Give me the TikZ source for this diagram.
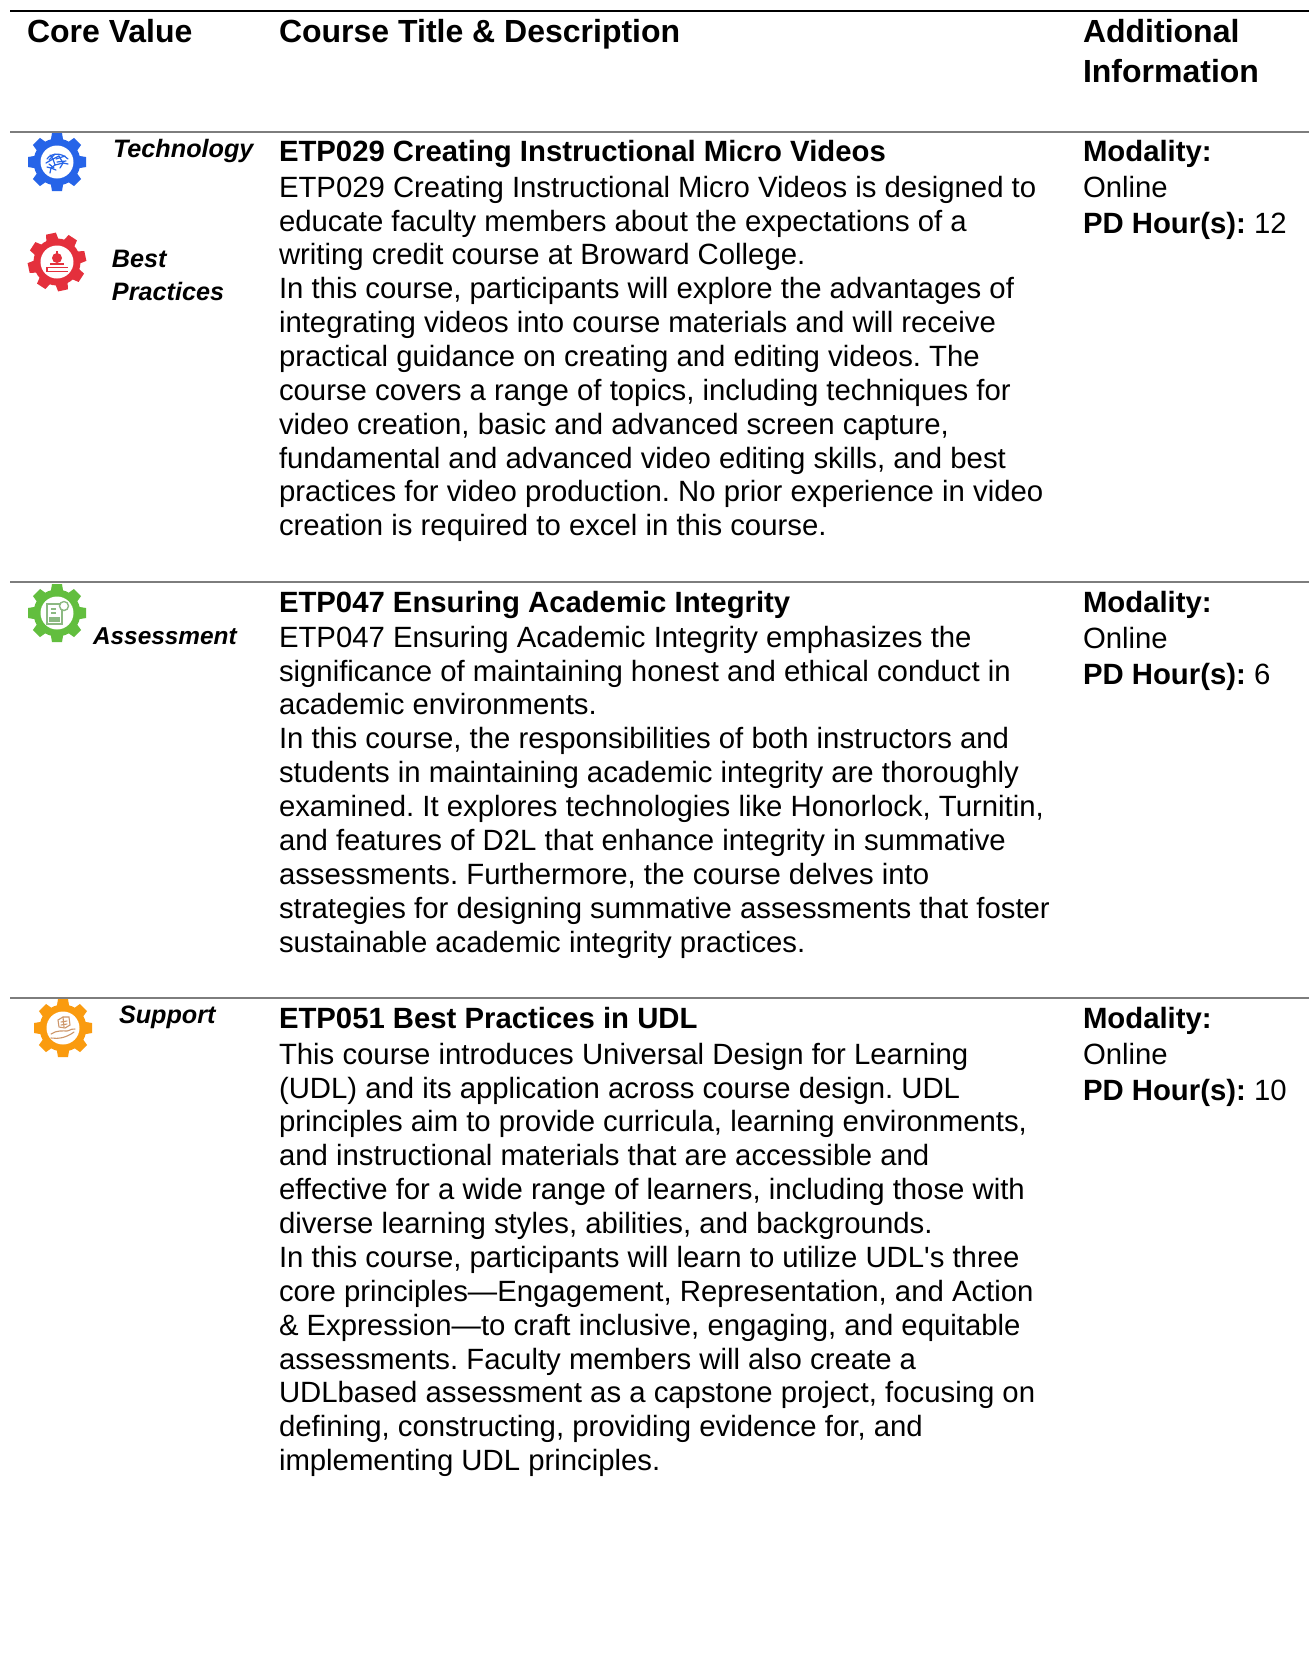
\documentclass[tikz,border=0pt]{standalone}
\usepackage{fontspec}
\setmainfont{Liberation Sans}
\frenchspacing
\definecolor{rulegray}{RGB}{125,125,125}
\definecolor{gblue}{RGB}{38,100,232}
\definecolor{gred}{RGB}{228,48,60}
\definecolor{ggreen}{RGB}{98,190,62}
\definecolor{gorange}{RGB}{250,155,15}
\definecolor{gpale}{RGB}{140,185,130}
\definecolor{hand}{RGB}{205,150,105}
\newcommand{\bodyfont}{\fontsize{14.66}{16.93}\selectfont}
\newcommand{\headfont}{\fontsize{16}{20}\selectfont\bfseries}
\tikzset{
  x=0.5pt,y=-0.5pt,
  para/.style={anchor=north west,inner sep=0pt,outer sep=0pt,align=left,font=\bodyfont},
  info/.style={anchor=north west,inner sep=0pt,outer sep=0pt,align=left,font=\fontsize{14.66}{18}\selectfont},
  head/.style={anchor=north west,inner sep=0pt,outer sep=0pt,align=left,font=\headfont},
  titleline/.style={anchor=north west,inner sep=0pt,outer sep=0pt,align=left,font=\fontsize{14.65}{17}\selectfont\bfseries},
  core/.style={anchor=north west,inner sep=0pt,outer sep=0pt,align=left,font=\fontsize{12.6}{16.6}\selectfont\bfseries\itshape},
  blackrule/.style={draw=black,line width=1.1pt},
  grayrule/.style={draw=rulegray,line width=0.75pt},
  gear/.pic={
    \fill[pic actions] (0,0) circle (23.5);
    \foreach \a in {0,45,...,315}{
      \fill[pic actions,rotate=\a] (-6.5,-20) -- (-5,-29) -- (5,-29) -- (6.5,-20) -- cycle;
    }
    \fill[white] (0,0) circle (16.5);
  }
}
\begin{document}
\begin{tikzpicture}
\useasboundingbox (0,0) rectangle (1309,1667);
\fill[white] (0,0) rectangle (1309,1667);
% rules
\coordinate (r0a) at (10,11);  \coordinate (r0b) at (1309,11);
\coordinate (r1a) at (10,132); \coordinate (r1b) at (1309,132);
\coordinate (r2a) at (10,582); \coordinate (r2b) at (1309,582);
\coordinate (r3a) at (10,998); \coordinate (r3b) at (1309,998);
\draw[blackrule] (r0a) -- (r0b);
\draw[grayrule] (r1a) -- (r1b);
\draw[grayrule] (r2a) -- (r2b);
\draw[grayrule] (r3a) -- (r3b);
% header
\node[head] (h1) at (27,19) {Core Value};
\node[head] (h2) at (279,19) {Course Title \& Description};
\node[head] (h3) at (1083,19) {Additional\\Information};
% gears
\pic[gblue] at (57,162) {gear};
\begin{scope}[shift={(57,162)},draw=gblue,line width=0.6pt,line cap=round]
  \draw (-10,-3) .. controls (-6,-9) and (4,-10) .. (11,-3);
  \draw (-11,1) -- (-4,-3) -- (2,-6) (-4,-3) -- (-2,3) -- (6,1) -- (11,2);
  \draw (-7,-7) -- (-4,-3) (2,-6) -- (6,1) (-2,3) -- (-6,6) -- (-7,11);
  \draw (-10,5) -- (-6,6) -- (-1,8) (3,6) -- (6,1);
  \draw (-8,-2) -- (-2,-8) (-1,-3) -- (8,-6) (0,0) -- (9,-1) (-8,2) -- (-3,6);
\end{scope}
\pic[gred,rotate=12] at (57,262) {gear};
\begin{scope}[shift={(57,262)}]
  \fill[gred] (0,-4) circle (5);
  \fill[gred] (-0.8,-11) rectangle (0.8,-7);
  \fill[gred] (-7,1) rectangle (7,3);
  \fill[gred] (-11,4.5) rectangle (11,6);
  \fill[gred] (-11,8.5) rectangle (11,10);
  \fill[gred] (-11,4.5) rectangle (-9,10);
\end{scope}
\pic[ggreen] at (57,613) {gear};
\begin{scope}[shift={(57,613)},draw=gpale,line width=0.7pt]
  \draw (-10,-9) rectangle (5,11);
  \draw[fill=white] (7,-7) circle (4.5);
  \draw (-6,-4) -- (-1,-4) (-6,0) -- (-1,0);
  \fill[gpale] (-8,4) rectangle (3,9);
\end{scope}
\pic[gorange] at (63,1028) {gear};
\begin{scope}[shift={(63,1028)},draw=hand,line width=0.55pt,line cap=round]
  \draw (-12,6) .. controls (-6,2) and (0,3) .. (4,3) .. controls (8,2) and (10,0) .. (12,1);
  \draw (-12,10) .. controls (-5,11) and (3,10) .. (11,4);
  \draw (-4,-1) -- (-5,-8) -- (0,-11) -- (6,-11) -- (7,-3) -- (2,0) -- (-4,-1);
  \draw (-2,-6) -- (4,-7) (-2,-3) -- (4,-4) (0,-11) -- (1,-1);
\end{scope}
% core values
\node[core] (c1) at (113,139) {Technology};
\node[core] (c2) at (112,250) {Best\\Practices};
\node[core] (c3) at (93,628) {\fontsize{12.2}{16.6}\selectfont Assessment};
\node[core] (c4) at (119,1006) {Support};
% row 1
\node[titleline] (t1) at (279,140) {ETP029 Creating Instructional Micro Videos};
\node[para] (b1) at (279,176) {ETP029 Creating Instructional Micro Videos is designed to\\
educate faculty members about the expectations of a\\
writing credit course at Broward College.\\
In this course, participants will explore the advantages of\\
integrating videos into course materials and will receive\\
practical guidance on creating and editing videos. The\\
course covers a range of topics, including techniques for\\
video creation, basic and advanced screen capture,\\
fundamental and advanced video editing skills, and best\\
practices for video production. No prior experience in video\\
creation is required to excel in this course.};
\node[info] (a1) at (1083,140) {\textbf{Modality:}\\Online\\\textbf{PD Hour(s):} 12};
% row 2
\node[titleline] (t2) at (279,591) {ETP047 Ensuring Academic Integrity};
\node[para] (b2) at (279,626) {ETP047 Ensuring Academic Integrity emphasizes the\\
significance of maintaining honest and ethical conduct in\\
academic environments.\\
In this course, the responsibilities of both instructors and\\
students in maintaining academic integrity are thoroughly\\
examined. It explores technologies like Honorlock, Turnitin,\\
and features of D2L that enhance integrity in summative\\
assessments. Furthermore, the course delves into\\
strategies for designing summative assessments that foster\\
sustainable academic integrity practices.};
\node[info] (a2) at (1083,591) {\textbf{Modality:}\\Online\\\textbf{PD Hour(s):} 6};
% row 3
\node[titleline] (t3) at (279,1007) {ETP051 Best Practices in UDL};
\node[para] (b3) at (279,1043) {This course introduces Universal Design for Learning\\
(UDL) and its application across course design. UDL\\
principles aim to provide curricula, learning environments,\\
and instructional materials that are accessible and\\
effective for a wide range of learners, including those with\\
diverse learning styles, abilities, and backgrounds.\\
In this course, participants will learn to utilize UDL{\textquotesingle}s three\\
core principles—Engagement, Representation, and Action\\
\& Expression—to craft inclusive, engaging, and equitable\\
assessments. Faculty members will also create a\\
UDLbased assessment as a capstone project, focusing on\\
defining, constructing, providing evidence for, and\\
implementing UDL principles.};
\node[info] (a3) at (1083,1007) {\textbf{Modality:}\\Online\\\textbf{PD Hour(s):} 10};
\end{tikzpicture}
\end{document}
